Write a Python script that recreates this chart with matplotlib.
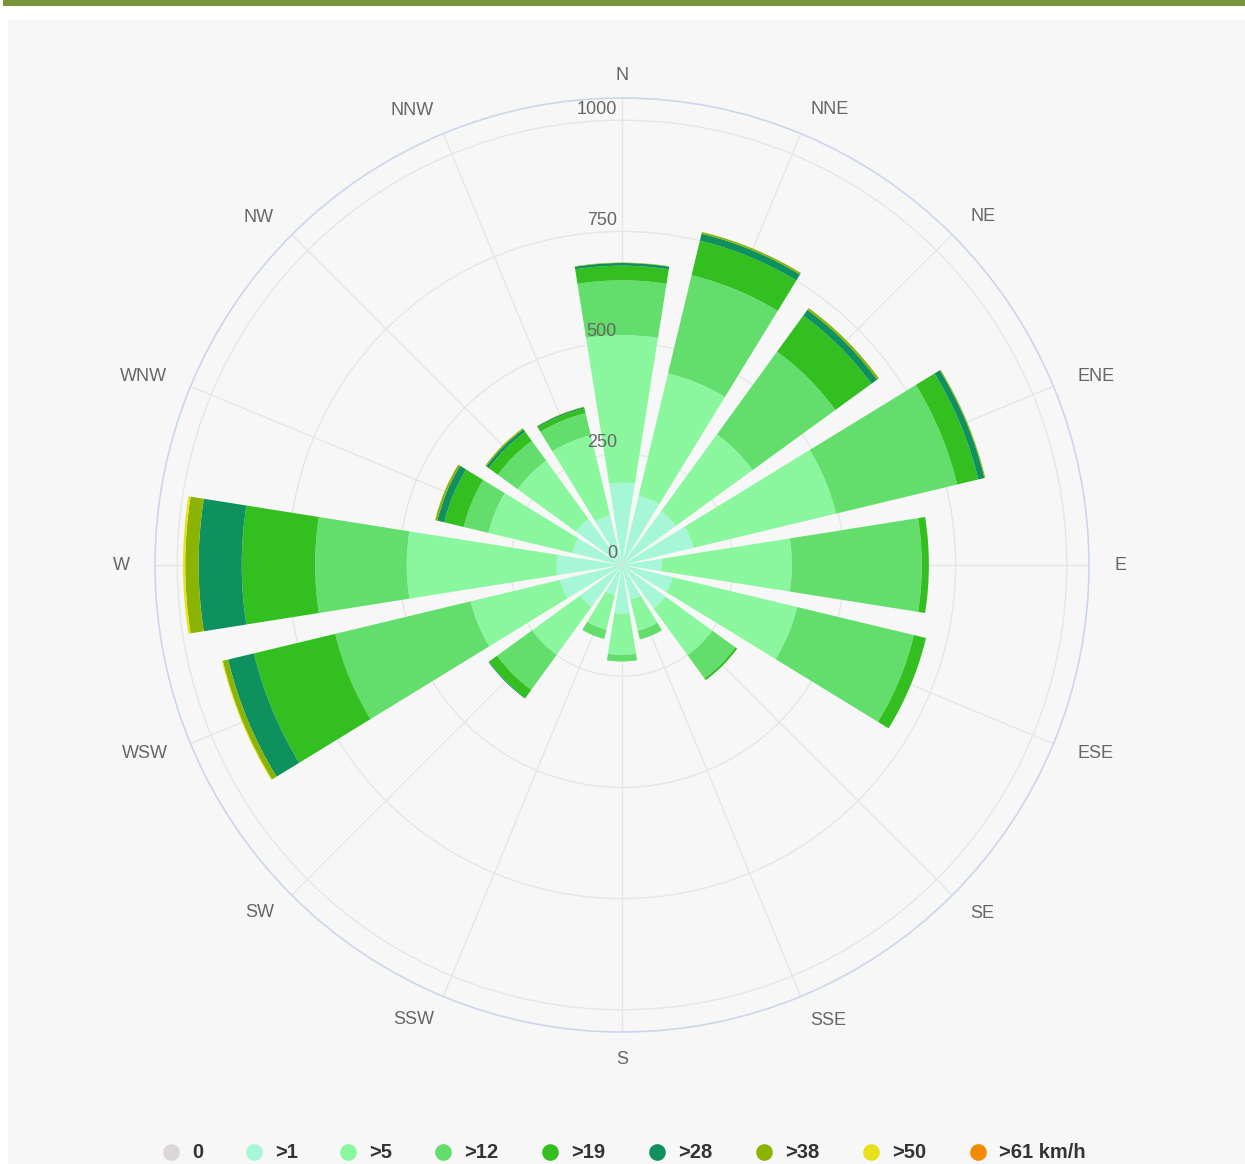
import numpy as np
import matplotlib
matplotlib.use('Agg')
import matplotlib.pyplot as plt
import matplotlib.transforms as mtransforms
from matplotlib.patches import Rectangle

# ---------------- data ----------------
directions = ['N', 'NNE', 'NE', 'ENE', 'E', 'ESE', 'SE', 'SSE',
              'S', 'SSW', 'SW', 'WSW', 'W', 'WNW', 'NW', 'NNW']
series_names = ['0', '>1', '>5', '>12', '>19', '>28', '>38', '>50', '>61 km/h']

calm = [4, 4, 4, 4, 4, 4, 4, 4, 4, 4, 4, 4, 4, 4, 4, 4]
s1 = [181, 156, 146, 161, 85, 113, 116, 76, 105, 66, 112, 139, 143, 111, 124, 111]
s5 = [332, 283, 213, 330, 293, 288, 131, 72, 93, 80, 134, 207, 337, 194, 162, 185]
s12 = [123, 227, 230, 280, 292, 270, 64, 20, 15, 21, 97, 313, 206, 57, 55, 51]
s19 = [33, 80, 100, 49, 16, 28, 5, 0, 0, 0, 22, 188, 165, 45, 25, 11]
s28 = [6, 16, 16, 14, 0, 0, 0, 0, 0, 0, 2, 60, 97, 16, 7, 3]
s38 = [1, 4, 5, 2, 0, 0, 0, 0, 0, 0, 0, 12, 30, 5, 3, 1]
s50 = [0, 0, 0, 0, 0, 0, 0, 0, 0, 0, 0, 2, 5, 0, 0, 0]
s61 = [0, 0, 0, 0, 0, 0, 0, 0, 0, 0, 0, 0, 0, 0, 0, 0]

radial_ticks = [0, 250, 500, 750, 1000]
radial_max = 1050

colors = ['#dcd7d7', '#a6f7d8', '#8af79e', '#63de6c', '#33bf1f',
          '#0e915f', '#8bb402', '#e7e11a', '#f28b02']

series = [calm, s1, s5, s12, s19, s28, s38, s50, s61]

# ---------------- figure ----------------
W, H = 1245, 1164
DPI = 100
fig = plt.figure(figsize=(W / DPI, H / DPI), dpi=DPI, facecolor='white')

# background overlay axes in pixel coordinates
bg = fig.add_axes([0, 0, 1, 1], zorder=0)
bg.set_xlim(0, W)
bg.set_ylim(H, 0)
bg.axis('off')
bg.add_patch(Rectangle((8, 20), W - 8, H - 20, facecolor='#f7f7f7', edgecolor='none'))
bg.add_patch(Rectangle((3, 0), W - 3, 6, facecolor='#77933c', edgecolor='none'))

# polar axes: center (622,565), outer radius 467 px
cx, cy, R = 622, 565, 467
ax = fig.add_axes([(cx - R) / W, (H - cy - R) / H, 2 * R / W, 2 * R / H],
                  projection='polar', zorder=1)
ax.set_facecolor('none')
ax.set_theta_zero_location('N')
ax.set_theta_direction(-1)
ax.set_ylim(0, radial_max)

n = len(directions)
theta = np.arange(n) * 2 * np.pi / n
width = 0.8 * 2 * np.pi / n

bottom = np.zeros(n)
for vals, col, name in zip(series, colors, series_names):
    v = np.array(vals, dtype=float)
    ax.bar(theta, v, width=width, bottom=bottom, color=col, edgecolor='none',
           linewidth=0, label=name, zorder=2)
    bottom += v

ax.set_xticks(theta)
ax.set_xticklabels([])
ax.set_yticks(radial_ticks[1:])
ax.set_yticklabels([])
ax.tick_params(length=0)
ax.grid(True, color='#e6e6e6', linewidth=1)
ax.set_axisbelow(True)
ax.spines['polar'].set_color('#ccd6eb')
ax.spines['polar'].set_linewidth(1.2)

font = 'Liberation Sans'
# radial tick labels
off = mtransforms.ScaledTranslation(-5 / DPI, 11 / DPI, fig.dpi_scale_trans)
for v in radial_ticks:
    ax.text(0, v, str(v), transform=ax.transData + off, ha='right', va='center',
            fontsize=13, color='#666666', family=font, zorder=5)

# direction labels
px2data = radial_max / R
for t, d in zip(theta, directions):
    deg = np.degrees(t)
    if abs(deg) < 1e-6 or abs(deg - 180) < 1e-6:
        ha = 'center'
        r = 490 if deg < 90 else 495
    elif deg < 180:
        ha = 'left'
        r = 493
    else:
        ha = 'right'
        r = 492
    ax.text(t, r * px2data, d, ha=ha, va='center', fontsize=13, color='#666666',
            family=font, clip_on=False)

# legend (drawn in pixel overlay)
legend_sym_x = [171, 254, 348, 443, 550, 657, 764, 871, 978]
legend_y = 1152
for x, col, name in zip(legend_sym_x, colors, series_names):
    bg.plot([x], [legend_y], marker='o', markersize=12, color=col,
            markeredgewidth=0, clip_on=False)
    bg.text(x + 21, legend_y + 1, name, ha='left', va='center', fontsize=14.5,
            fontweight='bold', color='#333333', family=font)

fig.savefig('out.png', dpi=DPI, facecolor='white')
